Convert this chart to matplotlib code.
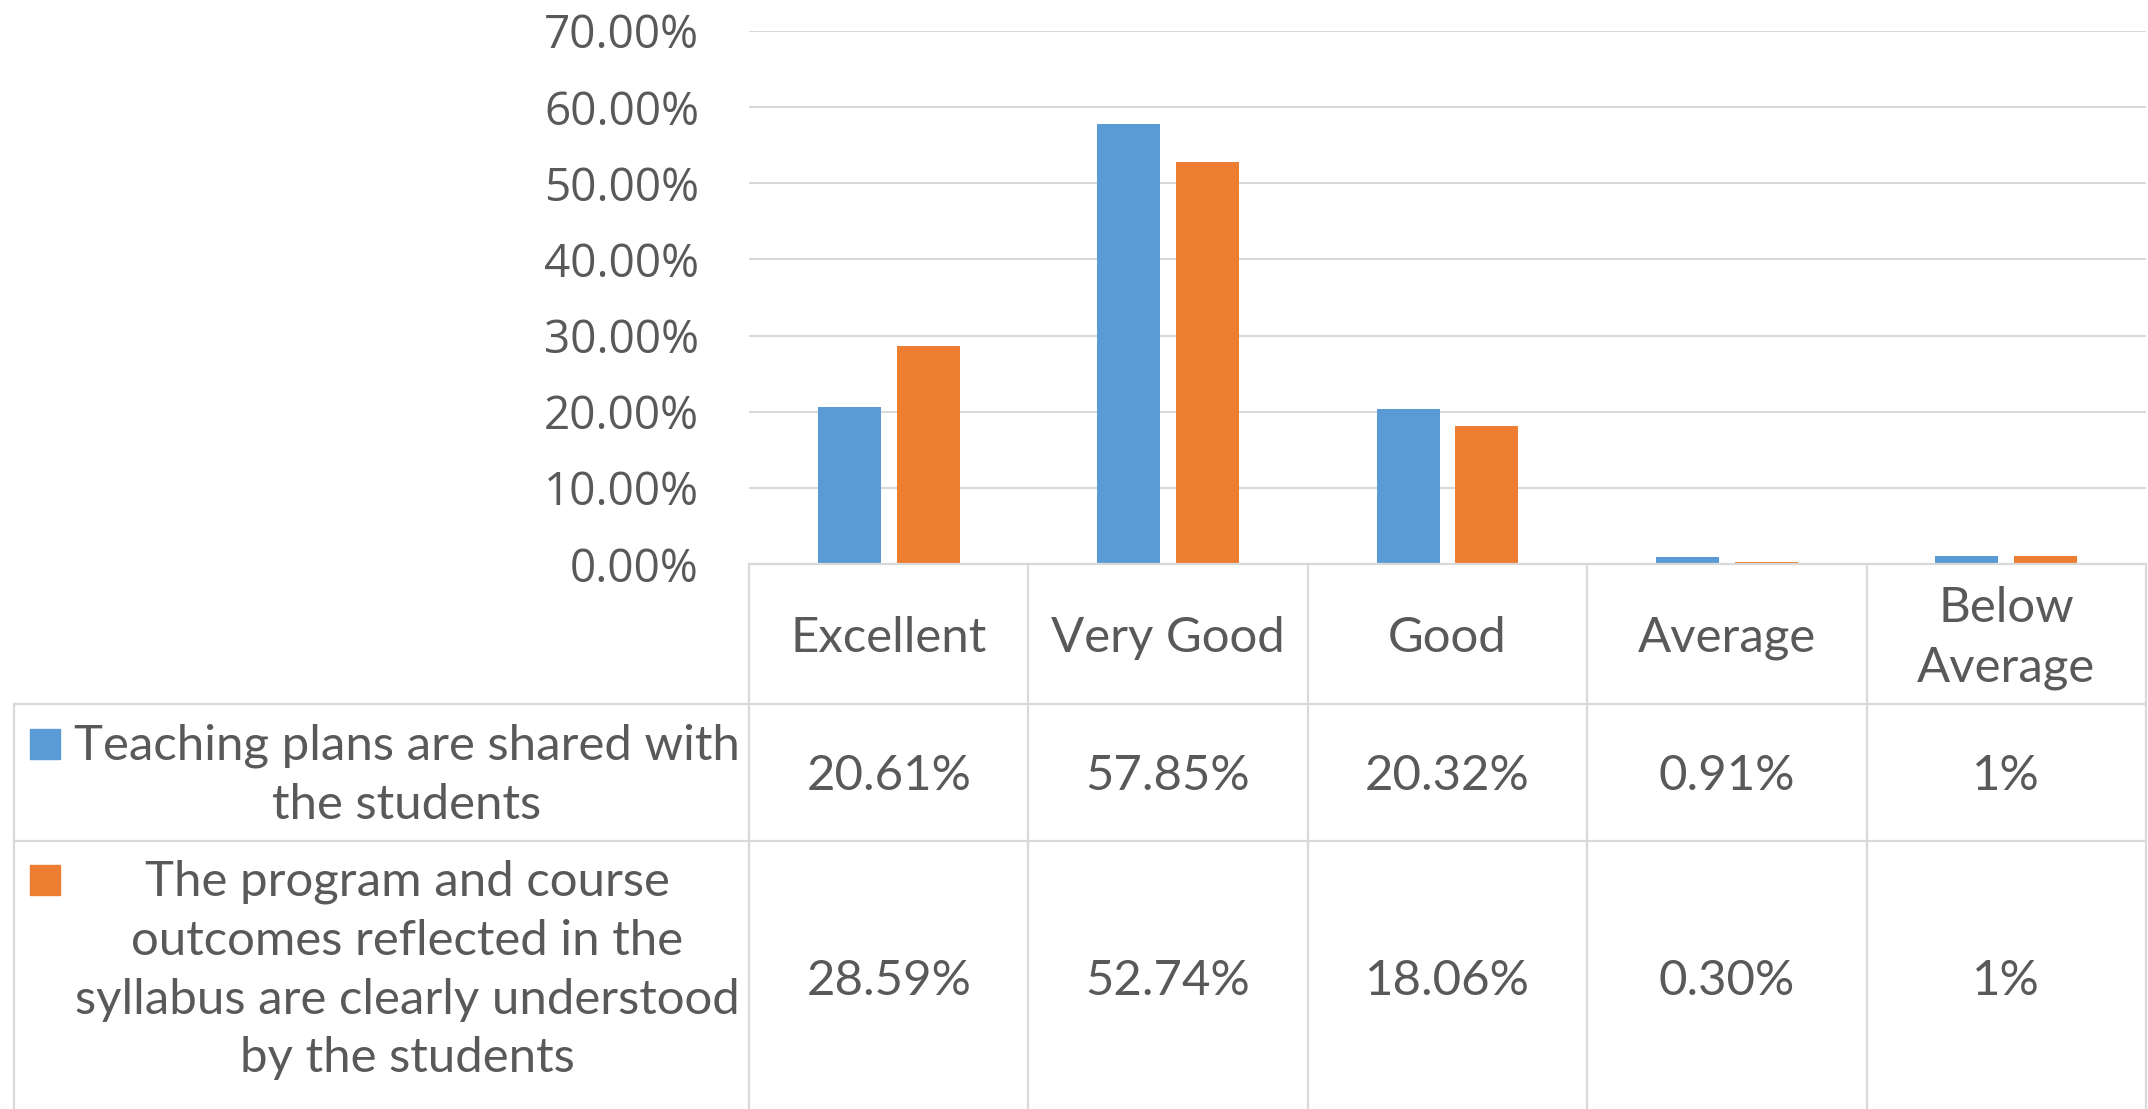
import numpy as np
import matplotlib
matplotlib.use("Agg")
import matplotlib.pyplot as plt
from matplotlib.lines import Line2D
from matplotlib.patches import Rectangle

# ---------------- data ----------------
categories = ["Excellent", "Very Good", "Good", "Average", "Below\nAverage"]
series_names = ["Teaching plans are shared with\nthe students",
                "The program and course\noutcomes reflected in the\nsyllabus are clearly understood\nby the students"]
teaching_plans = [20.61, 57.85, 20.32, 0.91, 1.0]
program_outcomes = [28.59, 52.74, 18.06, 0.30, 1.0]
teaching_labels = ["20.61%", "57.85%", "20.32%", "0.91%", "1%"]
program_labels = ["28.59%", "52.74%", "18.06%", "0.30%", "1%"]
yticks = [0, 10, 20, 30, 40, 50, 60, 70]

# ---------------- style ----------------
W, H = 2148, 1109
BLUE = "#5B9BD5"
ORANGE = "#ED7D31"
GRID = "#D9D9D9"
TXT = "#595959"
TABLE_FONT = ["Lato", "DejaVu Sans"]
TICK_FONT = ["Liberation Sans Narrow", "Open Sans", "DejaVu Sans"]

fig = plt.figure(figsize=(W / 100, H / 100), dpi=100)
fig.patch.set_facecolor("white")

def fx(x):
    return x / W

def fy(y):
    return 1 - y / H

plot_left, plot_right = 749, 2146
plot_top, plot_bottom = 31, 564
ax = fig.add_axes([fx(plot_left), fy(plot_bottom),
                   (plot_right - plot_left) / W, (plot_bottom - plot_top) / H])

x = np.arange(len(categories))
bw = 0.225
off = 0.141
ax.bar(x - off, np.array(teaching_plans) / 100, width=bw, color=BLUE, zorder=3)
ax.bar(x + off, np.array(program_outcomes) / 100, width=bw, color=ORANGE, zorder=3)
ax.set_xlim(-0.5, len(categories) - 0.5)
ax.set_ylim(0, 0.70)
ax.set_yticks([v / 100 for v in yticks])
ax.set_yticklabels([f"{v:.2f}%" for v in yticks], family=TICK_FONT, fontsize=33, color=TXT)
ax.tick_params(axis="y", length=0, pad=36)
ax.set_xticks([])
for s in ax.spines.values():
    s.set_visible(False)
ax.set_axisbelow(True)
ax.yaxis.grid(True, color=GRID, lw=1.5)

# ---------------- table ----------------
def hline(y, x0, x1):
    fig.add_artist(Line2D([fx(x0), fx(x1)], [fy(y), fy(y)], color=GRID, lw=1.6,
                          transform=fig.transFigure))

def vline(xp, y0, y1):
    fig.add_artist(Line2D([fx(xp), fx(xp)], [fy(y0), fy(y1)], color=GRID, lw=1.6,
                          transform=fig.transFigure))

col_x = np.linspace(plot_left, plot_right, len(categories) + 1)
legend_left = 14
hline(564, plot_left, plot_right)
hline(704, legend_left, plot_right)
hline(841, legend_left, plot_right)
for cx in col_x:
    vline(cx, 564, H + 5)
vline(legend_left, 704, H + 5)

# fit table font size by the width of the longest legend line
renderer = fig.canvas.get_renderer()
probe = fig.text(0, 0, "Teaching plans are shared with", family=TABLE_FONT, fontsize=36)
wpx = probe.get_window_extent(renderer).width
probe.remove()
fs = 36 * 666 / wpx
line_px = 59
ls = 64 / (fs * 100 / 72) * 1.08

centers_col = (col_x[:-1] + col_x[1:]) / 2
for cx, cat in zip(centers_col, categories):
    fig.text(fx(cx), fy(638), cat, ha="center", va="center", family=TABLE_FONT,
             fontsize=fs, color=TXT, linespacing=ls, multialignment="center")

row_centers = [776, 981]
for yc, labels in zip(row_centers, [teaching_labels, program_labels]):
    for cx, lab in zip(centers_col, labels):
        fig.text(fx(cx), fy(yc), lab, ha="center", va="center", family=TABLE_FONT,
                 fontsize=fs, color=TXT)

for yc, name, col in zip([775, 970], series_names, [BLUE, ORANGE]):
    fig.text(fx(407), fy(yc), name, ha="center", va="center", family=TABLE_FONT,
             fontsize=fs, color=TXT, linespacing=ls, multialignment="center")
    n = name.count("\n") + 1
    first = yc - (n - 1) / 2 * line_px
    fig.add_artist(Rectangle((fx(30), fy(first + 13)), 30 / W, 30 / H, color=col,
                             transform=fig.transFigure))

fig.savefig("out.png", dpi=100, facecolor="white")
